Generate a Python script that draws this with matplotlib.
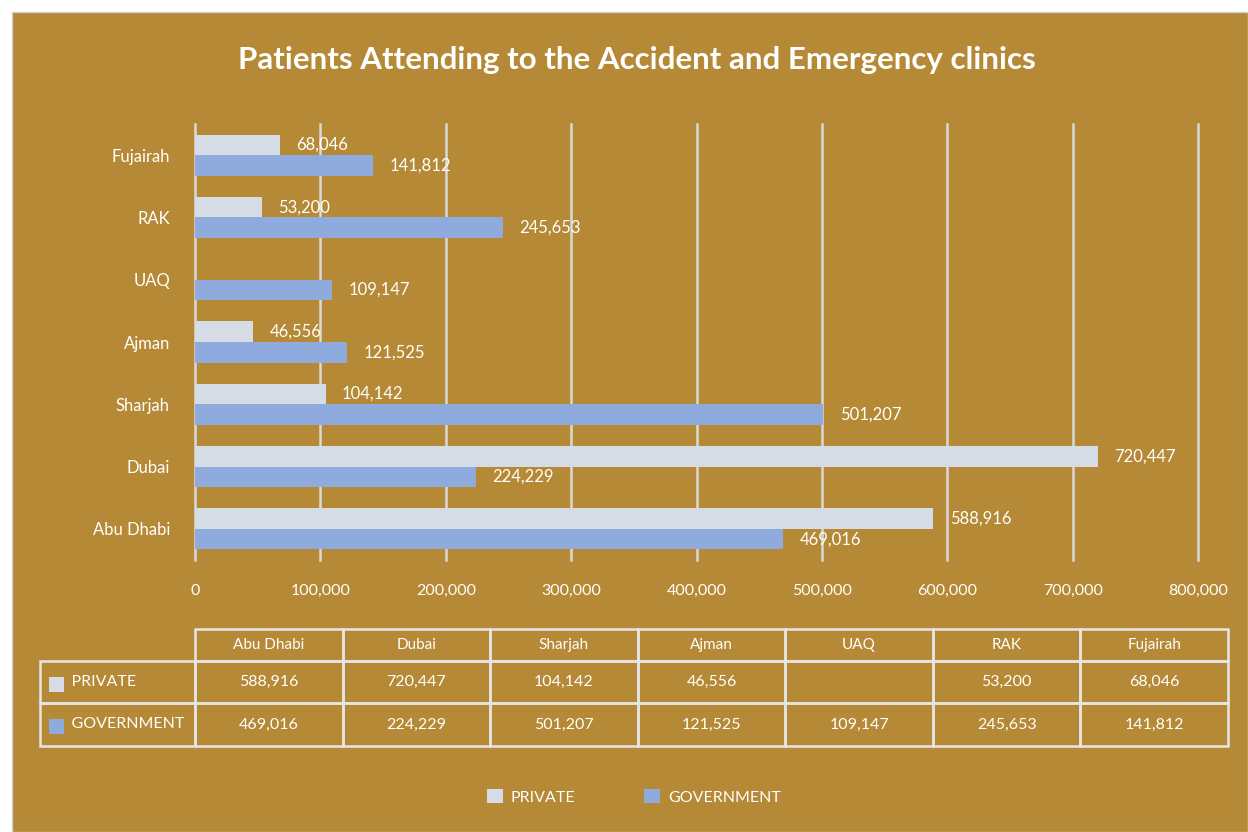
import matplotlib.pyplot as plt
from matplotlib.patches import Rectangle
from matplotlib.ticker import FuncFormatter

plt.rcParams['font.family'] = ['Lato', 'DejaVu Sans']

cities = ['Abu Dhabi', 'Dubai', 'Sharjah', 'Ajman', 'UAQ', 'RAK', 'Fujairah']
private = [588916, 720447, 104142, 46556, None, 53200, 68046]
government = [469016, 224229, 501207, 121525, 109147, 245653, 141812]
series_names = ['PRIVATE', 'GOVERNMENT']
xticks = [0, 100000, 200000, 300000, 400000, 500000, 600000, 700000, 800000]

gold = '#B58935'
c_priv = '#D6DCE5'
c_gov = '#8FAADC'
grid_c = '#D9D9D9'
txt = 'white'

W, H = 1248, 832
fig = plt.figure(figsize=(W / 100, H / 100), dpi=100, facecolor='white')
fig.patches.append(Rectangle((12 / W, 0), 1 - 12 / W, 1 - 12 / H, transform=fig.transFigure,
                             facecolor=gold, edgecolor='#D0D0D0', lw=1, zorder=-10))

fig.text(0.510, 1 - 60 / H, 'Patients Attending to the Accident and Emergency clinics',
         ha='center', va='center', fontsize=22.5, fontweight='bold', color=txt)

ax = fig.add_axes([195 / W, 1 - 560 / H, (1198 - 195) / W, (560 - 124) / H])
ax.set_facecolor('none')
h = 0.33
ypos = list(range(len(cities)))
priv_vals = [v if v is not None else 0 for v in private]
ax.barh([y + h / 2 for y in ypos], priv_vals, height=h, color=c_priv, zorder=3, label=series_names[0])
ax.barh([y - h / 2 for y in ypos], government, height=h, color=c_gov, zorder=3, label=series_names[1])
for y, v in zip(ypos, private):
    if v is not None:
        ax.text(v + 13000, y + h / 2, f'{v:,}', va='center', ha='left', color=txt, fontsize=12, zorder=4)
for y, v in zip(ypos, government):
    ax.text(v + 13000, y - h / 2, f'{v:,}', va='center', ha='left', color=txt, fontsize=12, zorder=4)

ax.set_xlim(0, 800000)
ax.set_ylim(-0.5, len(cities) - 0.5)
ax.set_xticks(xticks)
ax.xaxis.set_major_formatter(FuncFormatter(lambda v, p: f'{int(v):,}'))
ax.set_yticks(ypos)
ax.set_yticklabels(cities)
ax.tick_params(axis='both', length=0, colors=txt, labelsize=11.5)
ax.tick_params(axis='y', labelsize=12)
ax.tick_params(axis='x', pad=17)
ax.tick_params(axis='y', pad=18)
ax.grid(axis='x', color=grid_c, lw=1.8, zorder=1)
for gl in ax.get_xgridlines():
    gl.set_clip_on(False)
for s in ax.spines.values():
    s.set_visible(False)

# data table
tax = fig.add_axes([40 / W, 1 - 746 / H, (1228 - 40) / W, (746 - 629) / H])
tax.axis('off')
rows = [['    ' + series_names[0]] + [f'{v:,}' if v is not None else '' for v in private],
        ['    ' + series_names[1]] + [f'{v:,}' for v in government]]
widths = [155] + [147.6] * len(cities)
tab = tax.table(cellText=rows, colLabels=[''] + cities, colWidths=[w / sum(widths) for w in widths],
                cellLoc='center', bbox=[0, 0, 1, 1])
tab.auto_set_font_size(False)
heights = [32, 42, 43]
for (r, c), cell in tab.get_celld().items():
    cell.set_facecolor('none')
    cell.set_edgecolor('#E6E6E6')
    cell.set_linewidth(1.8)
    cell.set_height(heights[r] / sum(heights))
    cell.get_text().set_color(txt)
    cell.get_text().set_fontsize(11.5 if r else 11)
    if c == 0:
        cell.get_text().set_ha('left')
        cell._loc = 'left'
tab[0, 0].visible_edges = ''
for i, col in enumerate([c_priv, c_gov]):
    yc = 1 - (682 + 42 * i) / H
    fig.patches.append(Rectangle((49 / W, yc - 10 / H), 15 / W, 15 / H, transform=fig.transFigure,
                                 facecolor=col, edgecolor='none', zorder=5))

leg = fig.legend(loc='center', bbox_to_anchor=(0.508, 1 - 797 / H), ncol=2, frameon=False,
                 handlelength=1.0, handleheight=1.0, columnspacing=4.3, handletextpad=0.5, fontsize=11.5)
for t in leg.get_texts():
    t.set_color(txt)

fig.savefig('out.png', dpi=100, facecolor=fig.get_facecolor())
